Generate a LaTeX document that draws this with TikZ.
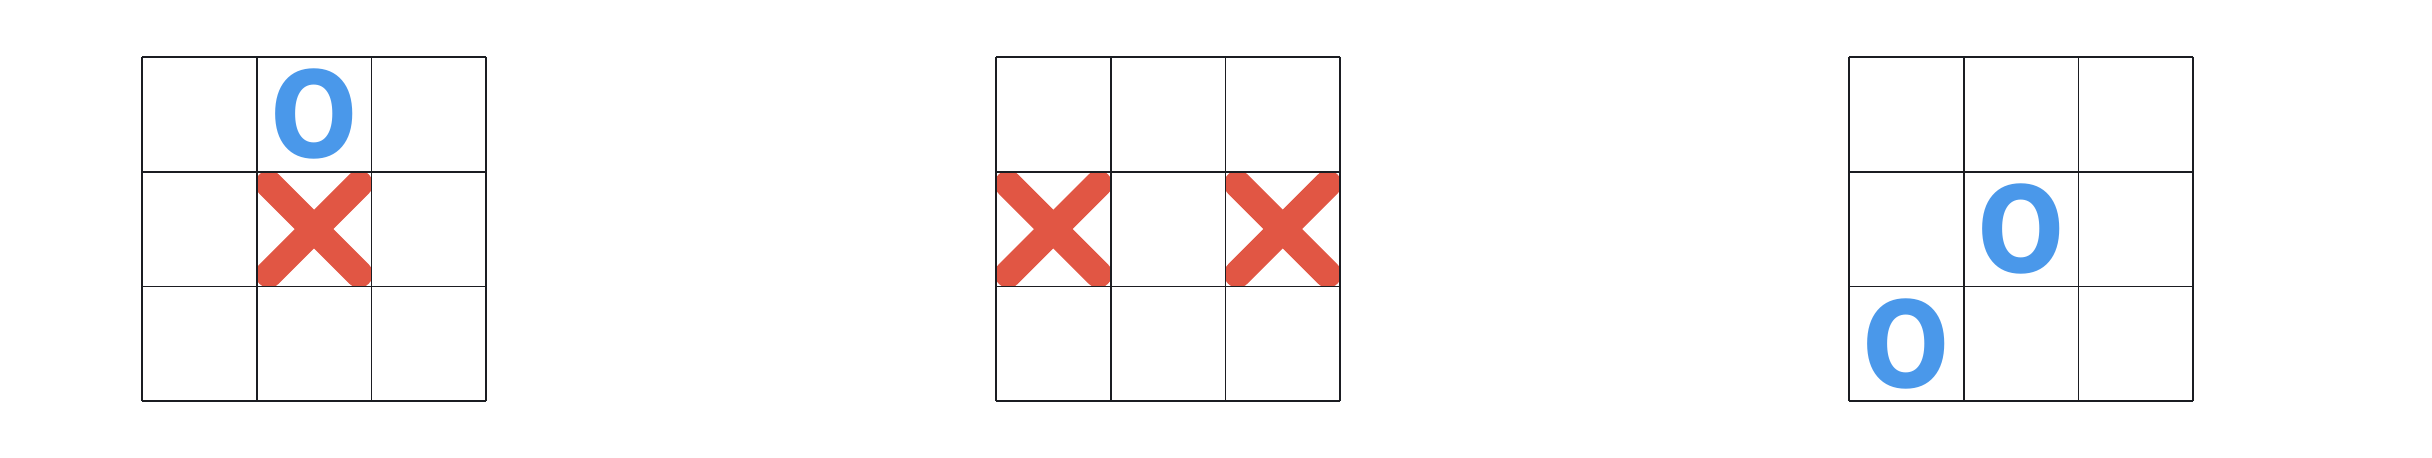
\documentclass[tikz,border=0pt]{standalone}
\usepackage{fontspec}
\newfontfamily\ofont{DejaVu Sans}
\definecolor{gridc}{HTML}{1B1D22}
\definecolor{ored}{HTML}{E15644}
\definecolor{oblue}{HTML}{4A98EA}
\begin{document}
\begin{tikzpicture}[x=0.01cm,y=-0.01cm,
  gridline/.style={draw=gridc,line width=0.48pt},
  xstroke/.style={draw=ored,line width=2.73mm,line cap=round},
  omark/.style={text=oblue,font=\ofont\bfseries\fontsize{34}{34}\selectfont,inner sep=0pt,anchor=center,xscale=0.86,transform shape}]
\useasboundingbox (0,0) rectangle (2432,458);
% cell centres
\coordinate (a01) at (314.05,114.35);
\coordinate (a11) at (314.05,229.05);
\coordinate (b10) at (1053.35,229.05);
\coordinate (b12) at (1282.75,229.05);
\coordinate (c11) at (2021.05,229.05);
\coordinate (c20) at (1906.35,343.75);
% X marks
\foreach \c in {a11,b10,b12}{
  \begin{scope}
    \clip ([shift={(-57.35,-57.35)}]\c) rectangle ([shift={(57.35,57.35)}]\c);
    \draw[xstroke] ([shift={(-45,-45)}]\c) -- ([shift={(45,45)}]\c);
    \draw[xstroke] ([shift={(-45,45)}]\c) -- ([shift={(45,-45)}]\c);
  \end{scope}
}
% O marks
\node[omark] (oa) at (a01) {O};
\node[omark] (oc1) at (c11) {O};
\node[omark] (oc2) at (c20) {O};
% grids
\foreach \gx in {142,996,1849}{
  \foreach \i in {0,...,3}{
    \draw[gridline] (\gx+\i*114.7,57) -- (\gx+\i*114.7,401.1);
    \draw[gridline] (\gx,57+\i*114.7) -- (\gx+344.1,57+\i*114.7);
  }
}
\end{tikzpicture}
\end{document}
